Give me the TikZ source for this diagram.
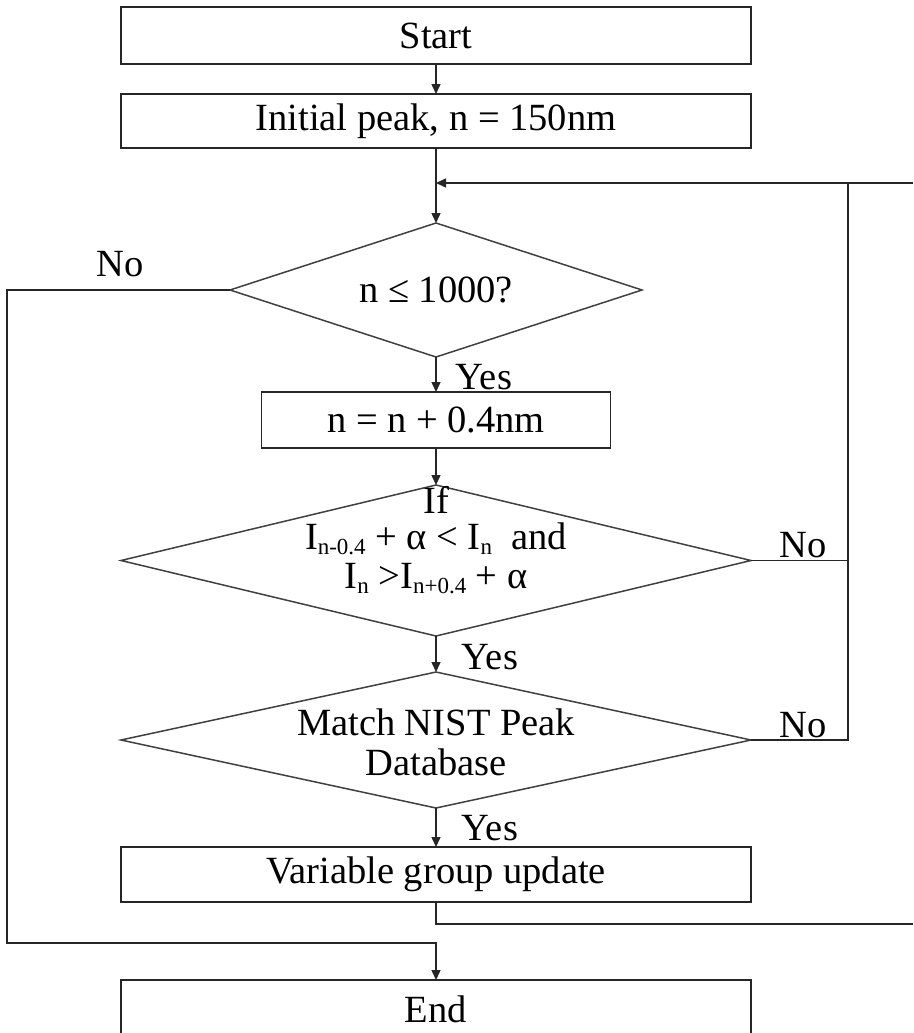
\documentclass[tikz,border=0pt]{standalone}
\usepackage{fontspec}
\setmainfont{Liberation Serif}
\usetikzlibrary{shapes.geometric,arrows.meta}
\newcommand\lowsub[1]{\raisebox{-5pt}{\fontsize{23}{23}\selectfont #1}}
\begin{document}
\begin{tikzpicture}[x=1pt,y=-1pt,
  font=\fontsize{38.5}{36}\selectfont,
  box/.style={draw=black!85, line width=1.5pt, rectangle, minimum width=630pt, inner sep=0pt, outer sep=0pt},
  dia/.style={draw=black!75, line width=1.5pt, diamond, aspect=3, inner sep=0pt, outer sep=0pt},
  lbl/.style={inner sep=0pt, outer sep=0pt},
  conn/.style={draw=black!85, line width=1.5pt},
  arr/.style={-{Triangle[length=10pt,width=9pt]}}]
\useasboundingbox (0,0) rectangle (913,1033);
\clip (0,0) rectangle (913,1033);

% nodes
\node[box, minimum height=57pt] (start) at (436,35.5) {Start};
\node[box, minimum height=54pt] (init) at (436,121) {Initial peak, n = 150nm};
\node[dia, minimum width=412pt, minimum height=134pt] (d1) at (436,290) {};
\node[lbl] (d1t) at (d1.center) {n ≤ 1000?};
\node[box, minimum width=349pt, minimum height=56pt] (nbox) at (436,420) {n = n + 0.4nm};
\node[dia, minimum width=630pt, minimum height=151pt] (d2) at (436,560.5) {};
\node[lbl, align=center] (d2t) at ([yshift=20pt]d2.center)
  {If\\ I\lowsub{n-0.4} + α < I\lowsub{n}\ \ and\\[3pt] I\lowsub{n} >I\lowsub{n+0.4} + α};
\node[dia, minimum width=630pt, minimum height=136pt] (d3) at (436,740) {};
\node[lbl, align=center] (d3t) at ([yshift=-2pt]d3.center) {Match NIST Peak\\[4pt]Database};
\node[box, minimum height=55pt] (var) at (436,874.5) {Variable group update};
\node[box, minimum height=58pt] (end) at (436,1009) {End};

% labels
\node[lbl] (yes1) at (484,377) {Yes};
\node[lbl] (yes2) at (490,657) {Yes};
\node[lbl] (yes3) at (490,828) {Yes};
\node[lbl] (no1) at (120,264) {No};
\node[lbl] (no2) at (803,545) {No};
\node[lbl] (no3) at (803,725) {No};

% coordinates for free ends
\coordinate (rin) at (913,183);
\coordinate (rx) at (848,183);
\coordinate (rout) at (913,924);
\coordinate (lc) at (7,943);

% connectors
\draw[conn,arr] (start.south) -- (init.north);
\draw[conn,arr] (init.south) -- (d1.north);
\draw[conn,arr] (rin) -- (init.south |- rin);
\draw[conn,arr] (d1.south) -- (nbox.north);
\draw[conn,arr] (nbox.south) -- (d2.north);
\draw[conn,arr] (d2.south) -- (d3.north);
\draw[conn,arr] (d3.south) -- (var.north);
\draw[conn] (d2.east) -- (d2.east -| rx);
\draw[conn] (d3.east) -| (rx);
\draw[conn] (var.south) |- (rout);
\draw[conn,arr] (d1.west) -| (lc) -| (end.north);
\end{tikzpicture}
\end{document}
